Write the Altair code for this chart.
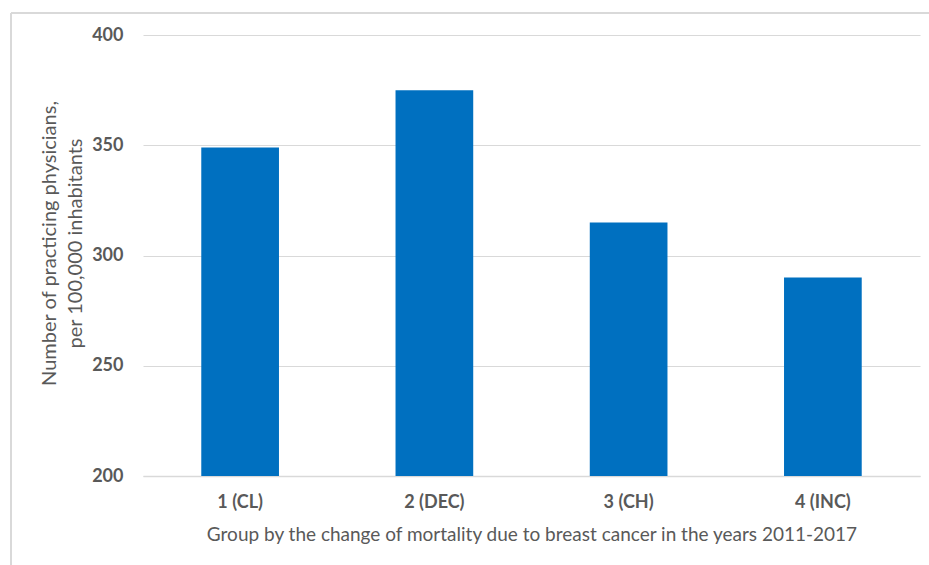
import altair as alt
import pandas as pd

groups = ["1 (CL)", "2 (DEC)", "3 (CH)", "4 (INC)"]
physicians = [349, 375, 315, 290]

df = pd.DataFrame({"group": groups, "value": physicians})

FONT = "Lato"
GRAY = "#595959"

bars = alt.Chart(df).mark_bar(color="#0070C0", clip=True).encode(
    x=alt.X("group:N", sort=groups,
            scale=alt.Scale(paddingInner=0.6, paddingOuter=0.3),
            axis=alt.Axis(title="Group by the change of mortality due to breast cancer in the years 2011-2017",
                          labelAngle=0, labelFontWeight="bold", labelFontSize=18,
                          labelColor=GRAY, labelFont=FONT, labelPadding=17,
                          ticks=False, domainColor="#d9d9d9", domainWidth=1.5,
                          titleFont=FONT, titleFontSize=19, titleFontWeight="normal",
                          titleColor=GRAY, titlePadding=14)),
    y=alt.Y("value:Q",
            scale=alt.Scale(domain=[200, 400], nice=False, zero=False),
            axis=alt.Axis(title=["Number of practicing physicians,", "per 100,000 inhabitants"],
                          values=[200, 250, 300, 350, 400],
                          labelFontWeight="bold", labelFontSize=18, labelColor=GRAY,
                          labelFont=FONT, labelPadding=20, ticks=False, domain=False,
                          gridColor="#d9d9d9", gridWidth=1.2,
                          titleFont=FONT, titleFontSize=20, titleFontWeight="normal",
                          titleColor=GRAY, titlePadding=6, titleY=208, titleLineHeight=26)),
)

frame_left = alt.Chart(df).mark_rule(color="#d9d9d9", strokeWidth=2).encode(
    x=alt.value(-132), y=alt.value(-22), y2=alt.value(540))
frame_top = alt.Chart(df).mark_rule(color="#d9d9d9", strokeWidth=2).encode(
    x=alt.value(-132), x2=alt.value(800), y=alt.value(-22))

chart = alt.layer(frame_left, frame_top, bars).properties(
    width=777, height=441,
    background="white",
    autosize=alt.AutoSizeParams(type="none"),
    padding={"left": 143, "top": 35, "right": 9, "bottom": 89},
).configure_view(stroke=None)

chart.save("out.html", embed_options={"renderer": "svg", "actions": False})
